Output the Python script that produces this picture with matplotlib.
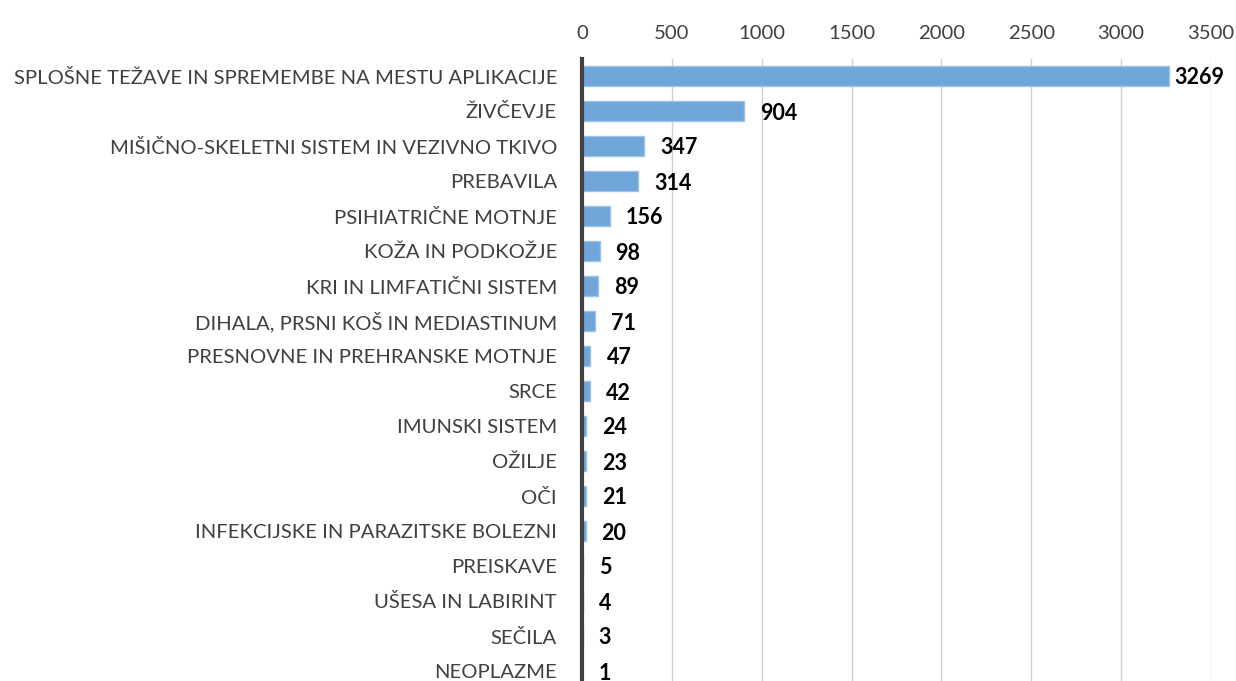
import matplotlib
matplotlib.use("Agg")
import matplotlib.pyplot as plt

categories = [
    "SPLOŠNE TEŽAVE IN SPREMEMBE NA MESTU APLIKACIJE",
    "ŽIVČEVJE",
    "MIŠIČNO-SKELETNI SISTEM IN VEZIVNO TKIVO",
    "PREBAVILA",
    "PSIHIATRIČNE MOTNJE",
    "KOŽA IN PODKOŽJE",
    "KRI IN LIMFATIČNI SISTEM",
    "DIHALA, PRSNI KOŠ IN MEDIASTINUM",
    "PRESNOVNE IN PREHRANSKE MOTNJE",
    "SRCE",
    "IMUNSKI SISTEM",
    "OŽILJE",
    "OČI",
    "INFEKCIJSKE IN PARAZITSKE BOLEZNI",
    "PREISKAVE",
    "UŠESA IN LABIRINT",
    "SEČILA",
    "NEOPLAZME",
]
values = [3269, 904, 347, 314, 156, 98, 89, 71, 47, 42, 24, 23, 21, 20, 5, 4, 3, 1]
x_ticks = [0, 500, 1000, 1500, 2000, 2500, 3000, 3500]

plt.rcParams["font.family"] = ["Lato", "DejaVu Sans"]

fig = plt.figure(figsize=(12.36, 6.81), dpi=100)
ax = fig.add_axes([582 / 1236, 1 - 688.5 / 681, 629 / 1236, 630 / 681])

y = list(range(len(categories)))
ax.barh(y, values, height=0.57, color="#6fa6da", edgecolor="#9cc3e8", linewidth=1, zorder=2)

for i, v in enumerate(values):
    off = 5 if v > 3000 else 16
    ax.annotate(str(v), (v, i), xytext=(off, -2), textcoords="offset pixels",
                ha="left", va="center", fontsize=15.5, fontweight="bold", color="black")

ax.set_ylim(len(categories) - 0.5, -0.5)
ax.set_xlim(0, 3500)
ax.set_yticks(y)
ax.set_yticklabels(categories, fontsize=14.6, color="#404040")
ax.set_xticks(x_ticks)
ax.set_xticklabels([str(t) for t in x_ticks], fontsize=14.6, color="#404040")
ax.xaxis.tick_top()
ax.tick_params(axis="both", length=0)
ax.tick_params(axis="x", pad=12)
ax.tick_params(axis="y", pad=18)

ax.grid(axis="x", color="#d0d0d0", linewidth=1, zorder=0)
ax.set_axisbelow(True)
for s in ["top", "right", "bottom"]:
    ax.spines[s].set_visible(False)
ax.spines["left"].set_color("#404040")
ax.spines["left"].set_linewidth(3)
ax.spines["left"].set_zorder(3)

fig.savefig("out.png", dpi=100)
